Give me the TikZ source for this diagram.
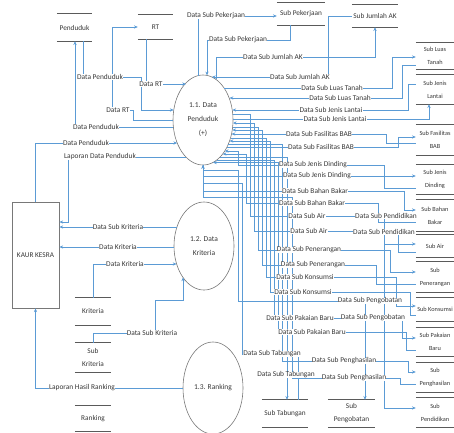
\documentclass[tikz,border=0pt]{standalone}
\usepackage{fontspec}
\setmainfont{Carlito}
\usetikzlibrary{shapes.geometric,arrows.meta}
\definecolor{flowc}{RGB}{91,155,213}
\definecolor{ink}{RGB}{55,55,55}
\definecolor{edgec}{RGB}{120,120,120}
\definecolor{storec}{RGB}{90,90,90}
\begin{document}
\begin{tikzpicture}[x=1pt,y=-1pt,
  lbl/.style={font=\fontsize{7.4}{8}\selectfont, text=ink, fill=white, inner sep=0.2pt},
  flow/.style={draw=flowc, line width=0.65pt, -{Stealth[length=3.8pt,width=3.2pt]}},
  proc/.style={ellipse, draw=edgec, line width=0.6pt, minimum width=60pt, minimum height=90pt, inner sep=0pt, align=center, font=\fontsize{7.5}{14}\selectfont, text=ink},
  store/.style={inner sep=0pt, align=center, font=\fontsize{7.3}{13}\selectfont, text=ink},
  rstore/.style={store, minimum width=38pt, font=\fontsize{6.3}{13}\selectfont},
  sline/.style={draw=storec, line width=0.8pt},
  ent/.style={draw=edgec, line width=0.7pt, minimum width=47pt, minimum height=106pt, inner sep=0pt, font=\fontsize{7.3}{8}\selectfont, text=ink}
]
\useasboundingbox (0,0) rectangle (454,432);
\clip (0,0) rectangle (454,432);

% processes and entity
\node[proc] (p11) at (203,120) {1.1. Data\\Penduduk\\(+)};
\node[proc, minimum height=88pt] (p12) at (204,246) {1.2. Data\\Kriteria};
\node[proc, minimum height=92pt] (p13) at (213,388) {1.3. Ranking};
\node[ent] (kaur) at (35.5,255) {KAUR KESRA};

% stores
\node[store, minimum width=35pt, minimum height=27pt] (sPend) at (74.5,27.5) {Penduduk};
\node[store, minimum width=35pt, minimum height=24pt] (sRT) at (155.5,27) {RT};
\node[store, minimum width=48pt, minimum height=22pt] (sPek) at (301,14) {Sub Pekerjaan};
\node[store, minimum width=46pt, minimum height=22pt] (sJAK) at (375,16) {Sub Jumlah AK};
\node[rstore, minimum height=26pt] (sLT) at (435,56) {Sub Luas\\Tanah};
\node[rstore, minimum height=29pt] (sJL) at (435,89.5) {Sub Jenis\\Lantai};
\node[rstore, minimum height=30pt] (sFB) at (435,140) {Sub Fasilitas\\BAB};
\node[rstore, minimum height=29pt] (sJD) at (435,179.5) {Sub Jenis\\Dinding};
\node[rstore, minimum height=31pt] (sBB) at (435,215.5) {Sub Bahan\\Bakar};
\node[rstore, minimum height=22pt] (sAir) at (435,246) {Sub Air};
\node[rstore, minimum height=30pt] (sPn) at (435,277) {Sub\\Penerangan};
\node[rstore, minimum height=23pt] (sKs) at (435,309.5) {Sub Konsumsi};
\node[rstore, minimum height=28pt] (sPB) at (435,342) {Sub Pakaian\\Baru};
\node[rstore, minimum height=29pt] (sPh) at (435,377.5) {Sub\\Penghasilan};
\node[rstore, minimum height=29pt] (sPd) at (435,412.5) {Sub\\Pendidikan};
\node[store, minimum width=46pt, minimum height=27pt] (sTb) at (285,413.5) {Sub Tabungan};
\node[store, minimum width=47pt, minimum height=27pt] (sPg) at (351.5,413.5) {Sub\\Pengobatan};
\node[store, minimum width=36pt, minimum height=27pt] (sKr) at (93,311.5) {Kriteria};
\node[store, minimum width=36pt, minimum height=29pt] (sSK) at (93,357.5) {Sub\\Kriteria};
\node[store, minimum width=36pt, minimum height=25pt] (sRk) at (93,418.5) {Ranking};
\foreach \n in {sPend,sRT,sPek,sJAK,sLT,sJL,sFB,sJD,sBB,sAir,sPn,sKs,sPB,sPh,sPd,sTb,sPg,sKr,sSK,sRk}
  \draw[sline] (\n.north west) -- (\n.north east) (\n.south west) -- (\n.south east);

% left side flows
\draw[flow] (sPend.south -| 83,0) -- (83,77) -- (141,77) -- (141,110) -- (173.7,110);
\draw[flow] (sRT.south -| 146,0) -- (146,84) -- (186,84);
\draw[flow] (p11.west) -- (133,120) -- (133,110) -- (112,110) |- (sRT.west);
\draw[flow] (173.4,127) -- (75,127) -- (sPend.south -| 75,0);
\draw[flow] (kaur.north) |- (177.2,143);
\draw[flow] (185.9,157) -- (68,157) |- (kaur.east |- 0,222);
\draw[flow] (176.9,227) -- (kaur.east |- 0,227);
\draw[flow] (174,247) -- (kaur.east |- 0,247);
\draw[flow] (sKr.north) |- (176.6,264);
\draw[flow] (sSK.north) |- (155,333) -- (155,300) -| (183,277.4);
\draw[flow] (p13.west) -| (kaur.south);

% top flows
\draw[flow] (198,75.6) |- (sPek.west |- 0,16);
\draw[flow] (sPek.south -| 290,0) |- (207,40) -- (207,75.4);
\draw[flow] (216,79.4) |- (375,57) -- (sJAK.south -| 375,0);
\draw[flow] (sJAK.west |- 0,16) -| (328,77) -- (211.9,77);

% right side flows
\draw[flow] (224.1,88) -| (392,57) -- (sLT.west |- 0,57);
\draw[flow] (sLT.west |- 0,65) -| (402,98) -- (229.5,98);
\draw[flow] (sJL.west |- 0,84) -| (408,110) -- (232.3,110);
\draw[flow] (233,119) -| (sJL.south -| 429,0);
\draw[flow] (sFB.west |- 0,143) -| (386,134) -- (231.5,134);
\draw[flow] (227.4,147) -| (398,137) -- (sFB.west |- 0,137);
\draw[flow] (sJD.west |- 0,188) -| (384,165) -- (238,165) |- (224.7,151);
\draw[flow] (203,164.9) |- (sJD.west |- 0,176);
\draw[flow] (203,164.9) |- (404,191) |- (sBB.west |- 0,210);
\draw[flow] (sBB.west |- 0,222) -| (378,203) -- (246,203) |- (222.6,154);
\draw[flow] (232.9,114) -| (250,216) -| (384,244) -- (sAir.west |- 0,244);
\coordinate (pdj) at (384,244);
\draw[flow] (pdj) |- (sPd.west |- 0,408);
\draw[flow] (sAir.west |- 0,252) -| (398,231) -- (254,231) |- (232.8,123);
\draw[flow] (232.6,127) -| (258,250) -| (390,272) -- (sPn.west |- 0,272);
\draw[flow] (sPn.west |- 0,284) -| (376,265) -- (262,265) |- (232.3,130);
\draw[flow] (230.5,138) -| (266,277) -| (396,306) -- (sKs.west |- 0,306);
\draw[flow] (sKs.west |- 0,315) -| (410,292) -- (270,292) |- (229.5,141);
\draw[flow] (203,164.9) |- (238,170) -- (238,301) -| (sPg.north -| 365,0);
\draw[flow] (216.7,160) -| (274,318) -| (402,338) -- (sPB.west |- 0,338);
\draw[flow] (sPB.west |- 0,350) -| (406,332) -- (278,332) |- (212.9,162.5);
\draw[flow] (228.4,144) -| (282,361) -| (408,372) -- (sPh.west |- 0,372);
\draw[flow] (sPh.west |- 0,384) -| (400,378) -- (292,378) |- (203,197) -- (203,164.9);
\draw[flow] (sTb.north -| 298,0) |- (242,354) |- (203,183) -- (203,164.9);
\draw[flow] (220.1,157) -| (sTb.north -| 287,0);

% labels
\node[lbl] (l1) at (100,77) {Data Penduduk};
\node[lbl] (l2) at (151,84) {Data RT};
\node[lbl] (l3) at (118,110) {Data RT};
\node[lbl] (l4) at (96,127) {Data Penduduk};
\node[lbl] (l5) at (86,143) {Data Penduduk};
\node[lbl] (l6) at (100,157) {Laporan Data Penduduk};
\node[lbl] (l7) at (118,227) {Data Sub Kriteria};
\node[lbl] (l8) at (118,247) {Data Kriteria};
\node[lbl] (l9) at (125,264) {Data Kriteria};
\node[lbl] (l10) at (152,333) {Data Sub Kriteria};
\node[lbl] (l11) at (82,388) {Laporan Hasil Ranking};
\node[lbl] (t1) at (216,16) {Data Sub Pekerjaan};
\node[lbl] (t2) at (238,40) {Data Sub Pekerjaan};
\node[lbl] (t3) at (273,57) {Data Sub Jumlah AK};
\node[lbl] (t4) at (300,77) {Data Sub Jumlah AK};
\node[lbl] (r1) at (332,88) {Data Sub Luas Tanah};
\node[lbl] (r2) at (340,98) {Data Sub Luas Tanah};
\node[lbl] (r3) at (331,110) {Data Sub Jenis Lantai};
\node[lbl] (r4) at (335,119) {Data Sub Jenis Lantai};
\node[lbl] (r5) at (319,134) {Data Sub Fasilitas BAB};
\node[lbl] (r6) at (321,147) {Data Sub Fasilitas BAB};
\node[lbl] (r7) at (313,165) {Data Sub Jenis Dinding};
\node[lbl] (r8) at (317,176) {Data Sub Jenis Dinding};
\node[lbl] (r9) at (315,191) {Data Sub Bahan Bakar};
\node[lbl] (r10) at (312,203) {Data Sub Bahan Bakar};
\node[lbl] (r11) at (307,216) {Data Sub Air};
\node[lbl] (r12) at (309,231) {Data Sub Air};
\node[lbl] (r13) at (386,216) {Data Sub Pendidikan};
\node[lbl] (r14) at (384,232) {Data Sub Pendidikan};
\node[lbl] (r15) at (309,250) {Data Sub Penerangan};
\node[lbl] (r16) at (313,265) {Data Sub Penerangan};
\node[lbl] (r17) at (305,277) {Data Sub Konsumsi};
\node[lbl] (r18) at (303,292) {Data Sub Konsumsi};
\node[lbl] (r19) at (370,301) {Data Sub Pengobatan};
\node[lbl] (r20) at (300,318) {Data Sub Pakaian Baru};
\node[lbl] (r21) at (373,318) {Data Sub Pengobatan};
\node[lbl] (r22) at (312,332) {Data Sub Pakaian Baru};
\node[lbl] (r23) at (272,354) {Data Sub Tabungan};
\node[lbl] (r24) at (344,361) {Data Sub Penghasilan};
\node[lbl] (r25) at (286,375) {Data Sub Tabungan};
\node[lbl] (r26) at (354,378) {Data Sub Penghasilan};
\end{tikzpicture}
\end{document}
